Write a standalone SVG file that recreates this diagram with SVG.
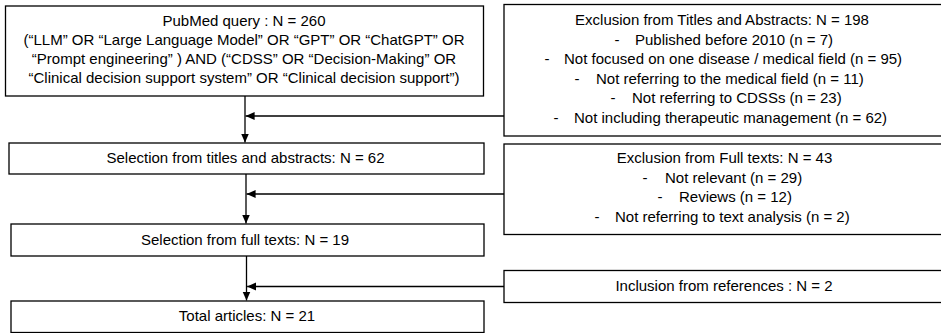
<svg xmlns="http://www.w3.org/2000/svg" width="941" height="333" viewBox="0 0 941 333">
<style>
  .box{fill:#fff;stroke:#000;stroke-width:1.3}
  .t{font-family:"Liberation Sans",Arial,sans-serif;font-size:15px;fill:#000}
  .m{text-anchor:middle}
  .ln{fill:none;stroke:#000;stroke-width:1.3}
</style>
<defs>
  <marker id="ah" markerUnits="userSpaceOnUse" markerWidth="10" markerHeight="10" viewBox="0 0 10 10" refX="9" refY="5" orient="auto">
    <path d="M0,1 L9,5 L0,9 Z" fill="#000"/>
  </marker>
</defs>
<g id="connectors">
  <line class="ln" x1="245" y1="96" x2="245" y2="142.5" marker-end="url(#ah)"/>
  <line class="ln" x1="246" y1="174" x2="246" y2="223.5" marker-end="url(#ah)"/>
  <line class="ln" x1="246.5" y1="256" x2="246.5" y2="300.5" marker-end="url(#ah)"/>
  <line class="ln" x1="504" y1="116" x2="245.6" y2="116" marker-end="url(#ah)"/>
  <line class="ln" x1="504" y1="194" x2="246.6" y2="194" marker-end="url(#ah)"/>
  <line class="ln" x1="504" y1="286.5" x2="247.1" y2="286.5" marker-end="url(#ah)"/>
</g>
<g id="pubmed">
  <rect class="box" x="5.5" y="6" width="478" height="90"/>
  <text class="t m" x="244" y="26">PubMed query : N = 260</text>
  <text class="t m" x="244" y="45">(“LLM” OR “Large Language Model” OR “GPT” OR “ChatGPT” OR</text>
  <text class="t m" x="244" y="64">“Prompt engineering” ) AND (“CDSS” OR “Decision-Making” OR</text>
  <text class="t m" x="244" y="83">“Clinical decision support system” OR “Clinical decision support”)</text>
</g>
<g id="excl-titles">
  <rect class="box" x="504" y="4.5" width="440" height="131.5"/>
  <text class="t m" x="722" y="25">Exclusion from Titles and Abstracts: N = 198</text>
  <text class="t m" x="617" y="44.5">-</text><text class="t" x="635" y="44.5">Published before 2010 (n = 7)</text>
  <text class="t m" x="547" y="64">-</text><text class="t" x="564" y="64">Not focused on one disease / medical field (n = 95)</text>
  <text class="t m" x="577" y="83.5">-</text><text class="t" x="596" y="83.5">Not referring to the medical field (n = 11)</text>
  <text class="t m" x="613" y="103">-</text><text class="t" x="632" y="103">Not referring to CDSSs (n = 23)</text>
  <text class="t m" x="556" y="122.5">-</text><text class="t" x="574" y="122.5">Not including therapeutic management (n = 62)</text>
</g>
<g id="sel-titles">
  <rect class="box" x="9" y="143" width="475" height="31"/>
  <text class="t m" x="245.5" y="163">Selection from titles and abstracts: N = 62</text>
</g>
<g id="excl-full">
  <rect class="box" x="504" y="144" width="440" height="90.5"/>
  <text class="t m" x="724.5" y="163">Exclusion from Full texts: N = 43</text>
  <text class="t m" x="645" y="182.5">-</text><text class="t" x="665" y="182.5">Not relevant (n = 29)</text>
  <text class="t m" x="660" y="202">-</text><text class="t" x="679" y="202">Reviews (n = 12)</text>
  <text class="t m" x="597" y="221.5">-</text><text class="t" x="615" y="221.5">Not referring to text analysis (n = 2)</text>
</g>
<g id="sel-full">
  <rect class="box" x="11" y="224" width="473" height="32"/>
  <text class="t m" x="245" y="244.5">Selection from full texts: N = 19</text>
</g>
<g id="incl-refs">
  <rect class="box" x="504" y="270.5" width="440" height="32"/>
  <text class="t m" x="724" y="291">Inclusion from references : N = 2</text>
</g>
<g id="total">
  <rect class="box" x="11" y="301" width="473" height="31.5"/>
  <text class="t m" x="247" y="321">Total articles: N = 21</text>
</g>
</svg>
